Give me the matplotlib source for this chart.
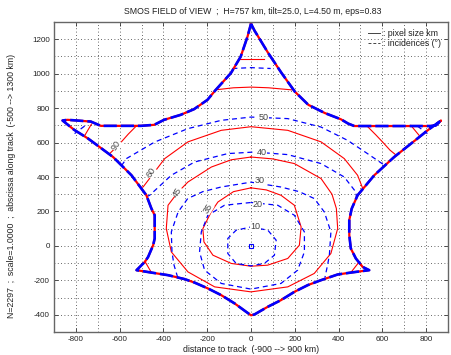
import matplotlib
matplotlib.use("Agg")
import matplotlib.pyplot as plt
from matplotlib.lines import Line2D

plt.rcParams['font.family'] = ['Liberation Sans', 'DejaVu Sans']
plt.rcParams['axes.unicode_minus'] = False

# ---------------- data (km) ----------------
# field-of-view boundary (closed)
fov_x = [0, 16, 33, 79, 140, 200, 262, 338, 411, 444, 472, 640, 820, 845, 868,
         810, 760, 654, 563, 487, 460, 449, 449, 456, 479, 510, 540,
         456, 396, 320, 259, 198, 137, 76, 16, 0,
         -22, -75, -136, -197, -258, -303, -379, -455, -523,
         -485, -470, -447, -440, -440, -455, -478, -546, -630, -744, -808, -861,
         -838, -732, -686, -503, -442, -397, -321, -260, -199, -161, -92, -47, -16, 0]
fov_y = [1290, 1250, 1215, 1119, 1003, 896, 819, 771, 735, 710, 696, 696, 696, 700, 728,
         674, 623, 516, 410, 294, 216, 150, 62, -15, -73, -122, -141,
         -155, -166, -199, -228, -267, -315, -354, -398, -403,
         -383, -334, -286, -247, -213, -193, -170, -155, -141,
         -93, -64, 4, 43, 178, 217, 294, 410, 516, 623, 674, 728,
         732, 722, 697, 697, 703, 732, 761, 794, 848, 906, 1003, 1099, 1215, 1290]

# pixel size contours (km) -- red solid
px35_x = [0, 70, 137, 198, 229, 221, 168, 76, 0, -90, -174, -215, -220, -182, -151, -80, 0]
px35_y = [337, 325, 294, 236, 110, 4, -73, -112, -118, -102, -54, 23, 100, 197, 255, 315, 337]
px45_x = [0, 100, 198, 320, 370, 390, 396, 365, 289, 168, 0, -166, -288, -364, -387, -379, -335, -288, -181, -90, 0]
px45_y = [516, 505, 478, 391, 300, 217, 101, -44, -160, -238, -267, -238, -151, -35, 101, 236, 310, 371, 458, 500, 516]
px60_x = [-505, -493, -394, -288, -136, 0, 168, 320, 426, 487, 510]
px60_y = [340, 342, 507, 604, 671, 692, 671, 604, 507, 410, 335]
px90L_x = [-524, -560, -595, -630, -648]
px90L_y = [696, 650, 600, 555, 533]
px90R_x = [530, 570, 605, 635, 664]
px90R_y = [696, 645, 598, 556, 526]
px90T_x = [-163, -80, 0, 80, 185]
px90T_y = [906, 918, 922, 918, 906]
pxhiL_x = [-729, -759]
pxhiL_y = [707, 642]
pxhiR_x = [730, 768]
pxhiR_y = [700, 642]
pxhiT_x = [-56, 0, 60]
pxhiT_y = [1084, 1084, 1084]
pxlobeL_x = [-485, -455]
pxlobeL_y = [-89, -155]
pxlobeR_x = [494, 456]
pxlobeR_y = [-93, -155]

# incidence contours (deg) -- blue dashed
in10_x = [0, 77, 115, 107, 61, 0, -68, -106, -106, -68, 0]
in10_y = [110, 91, 33, -54, -102, -116, -102, -44, 43, 91, 110]
in20_x = [0, 122, 198, 244, 244, 213, 137, 0, -136, -212, -235, -227, -197, -121, 0]
in20_y = [252, 236, 178, 81, -35, -141, -218, -251, -218, -141, -35, 81, 178, 236, 252]
in30_x = [-335, -352, -361, -364, -333, -289, -220, -136, 0, 136, 220, 289, 335, 365, 358, 350, 338]
in30_y = [-183, -110, -35, 81, 197, 275, 315, 342, 370, 342, 315, 275, 197, 81, -54, -110, -183]
in40_x = [-478, -463, -364, -258, -106, 16, 168, 320, 426, 479, 482]
in40_y = [285, 294, 410, 487, 536, 545, 530, 478, 400, 313, 282]
in50_x = [-592, -569, -440, -288, -136, 0, 168, 320, 441, 532, 608]
in50_y = [465, 507, 603, 681, 729, 748, 739, 690, 613, 536, 470]
in60T_x = [-85, 0, 90]
in60T_y = [1030, 1035, 1030]
in60L_x = [-760, -806]
in60L_y = [696, 652]
in60R_x = [760, 806]
in60R_y = [696, 652]

# contour labels
inc_labels = ['10', '20', '30', '40', '50']
inc_lab_x = [20, 31, 39, 49, 58]
inc_lab_y = [110, 240, 378, 541, 748]
pix_labels = ['35', '45', '60', '90']
pix_lab_x = [-197, -336, -455, -617]
pix_lab_y = [217, 313, 425, 584]

xticks = [-800, -600, -400, -200, 0, 200, 400, 600, 800]
yticks = [-400, -200, 0, 200, 400, 600, 800, 1000, 1200]

# ---------------- figure ----------------
fig = plt.figure(figsize=(4.52, 3.55), dpi=100)
ax = fig.add_axes([54/452, 23/355, 394/452, 310/355])

ax.set_xlim(-900, 900)
ax.set_ylim(-500, 1300)
ax.set_xticks(xticks)
ax.set_yticks(yticks)
ax.set_xticks(range(-900, 901, 100), minor=True)
ax.set_yticks(range(-500, 1301, 100), minor=True)
ax.grid(True, which='both', linestyle=(0, (1, 3)), color='#333333', linewidth=0.6)
ax.set_axisbelow(True)
ax.tick_params(which='major', direction='in', length=3, width=0.6, labelsize=5.8,
               top=True, right=True, colors='#333333', labelcolor='#222222', pad=3)
ax.tick_params(which='minor', length=0)
for s in ax.spines.values():
    s.set_color('#666666')
    s.set_linewidth(1.0)

red_kw = dict(color='red', lw=0.8)
blue_kw = dict(color='blue', lw=0.9, linestyle=(0, (4, 3)))

for xs, ys in [(px35_x, px35_y), (px45_x, px45_y), (px60_x, px60_y),
               (px90L_x, px90L_y), (px90R_x, px90R_y), (px90T_x, px90T_y),
               (pxhiL_x, pxhiL_y), (pxhiR_x, pxhiR_y), (pxhiT_x, pxhiT_y),
               (pxlobeL_x, pxlobeL_y), (pxlobeR_x, pxlobeR_y)]:
    ax.plot(xs, ys, **red_kw)

for xs, ys in [(in10_x, in10_y), (in20_x, in20_y), (in30_x, in30_y),
               (in40_x, in40_y), (in50_x, in50_y), (in60T_x, in60T_y),
               (in60L_x, in60L_y), (in60R_x, in60R_y)]:
    ax.plot(xs, ys, **blue_kw)

# boundary: red underneath, blue on top
ax.plot(fov_x, fov_y, color='red', lw=1.6, solid_joinstyle='round')
ax.plot(fov_x, fov_y, color='blue', lw=1.9, linestyle=(0, (5, 1.5)))

ax.plot([0], [0], marker='s', markersize=3.2, mfc='none', mec='blue', mew=0.8)

lab_kw = dict(fontsize=6.5, color='#444444', ha='center', va='center',
              bbox=dict(fc='white', ec='none', pad=0.2))
for t, x, y in zip(inc_labels, inc_lab_x, inc_lab_y):
    ax.text(x, y, t, **lab_kw)
for t, x, y in zip(pix_labels, pix_lab_x, pix_lab_y):
    ax.text(x, y, t, rotation=58, **lab_kw)

fig.text(253/452, 1 - 12/355, 'SMOS FIELD of VIEW  ;  H=757 km, tilt=25.0, L=4.50 m, eps=0.83',
         ha='center', va='center', fontsize=6.3, color='#222222')
fig.text(251/452, 1 - 349/355, 'distance to track  (-900 --> 900 km)',
         ha='center', va='center', fontsize=6.3, color='#222222')
fig.text(12/452, 1 - 186/355,
         'N=2297  ;  scale=1.0000  ;  abscissa along track  (-500 --> 1300 km)',
         ha='center', va='center', rotation=90, fontsize=6.3, color='#222222')

# legend-like annotation
fig.add_artist(Line2D([368/452, 380/452], [1 - 33/355, 1 - 33/355], color='#444444', lw=0.7))
fig.add_artist(Line2D([368/452, 380/452], [1 - 43/355, 1 - 43/355], color='#444444', lw=0.7,
                      linestyle=(0, (3, 2))))
fig.text(383/452, 1 - 33/355, ': pixel size km', ha='left', va='center', fontsize=6.3, color='#222222')
fig.text(383/452, 1 - 43/355, ': incidences (°)', ha='left', va='center', fontsize=6.3, color='#222222')

fig.savefig('out.png', dpi=100)
